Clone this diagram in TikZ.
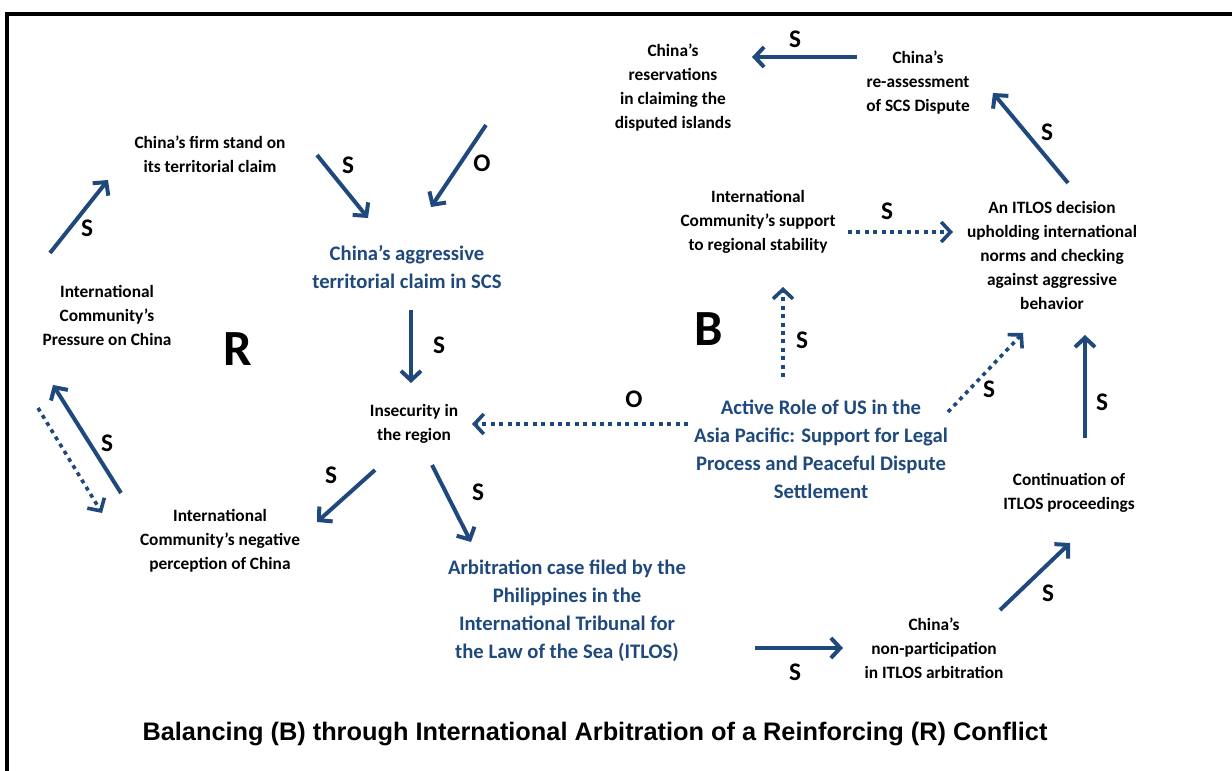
\documentclass[tikz,border=0pt]{standalone}
\usepackage{fontspec}
\setmainfont{Carlito}
\newfontfamily\capfont{Liberation Sans}
\usetikzlibrary{arrows.meta}
\definecolor{sdblue}{RGB}{31,73,125}
\begin{document}
\begin{tikzpicture}[x=0.75pt,y=-0.75pt,
    txt/.style={align=center,inner sep=1pt,font=\bfseries\fontsize{13}{18}\selectfont},
    btxt/.style={txt,text=sdblue,font=\bfseries\fontsize{15.5}{21}\selectfont},
    loopmark/.style={inner sep=0pt,font=\bfseries\fontsize{38}{40}\selectfont},
    capt/.style={inner sep=0pt,font=\capfont\bfseries\fontsize{19}{22}\selectfont},
    sarr/.style={draw=sdblue,line width=3pt,-{Straight Barb[length=7pt,width=15pt]}},
    darr/.style={sarr,line width=2.7pt,dash pattern=on 3pt off 3.3pt},
    lbl/.style={inner sep=0pt,text=black,font=\bfseries\fontsize{19}{20}\selectfont}]
      \useasboundingbox (0,0) rectangle (1232,771);
      \draw[line width=3pt] (6.5,771) -- (6.5,14) -- (1232,14);
      \node[txt] (press) at (107,315) {International\\Community’s\\Pressure on China};
      \node[txt] (firm) at (210,154) {China’s firm stand on\\its territorial claim};
      \node[btxt] (aggr) at (407,267) {China’s aggressive\\territorial claim in SCS};
      \node[txt] (reserv) at (673,88) {China’s\\reservations\\in claiming the\\disputed islands};
      \node[txt] (reass) at (918,83) {China’s\\re-assessment\\of SCS Dispute};
      \node[txt] (supp) at (758,222) {International\\Community’s support\\to regional stability};
      \node[txt] (itdec) at (1052,255) {An ITLOS decision\\upholding international\\norms and checking\\against aggressive\\behavior};
      \node[txt] (insec) at (414,424) {Insecurity in\\the region};
      \node[btxt] (usrole) at (821,449) {Active Role of US in the\\Asia Pacific: Support for Legal\\Process and Peaceful Dispute\\Settlement};
      \node[txt] (negp) at (220,541) {International\\Community’s negative\\perception of China};
      \node[btxt] (arbit) at (567,611) {Arbitration case filed by the\\Philippines in the\\International Tribunal for\\the Law of the Sea (ITLOS)};
      \node[txt] (contin) at (1069,493) {Continuation of\\ITLOS proceedings};
      \node[txt] (nonp) at (934,648) {China’s\\non-participation\\in ITLOS arbitration};
      \node[loopmark] (R) at (238,349) {R};
      \node[loopmark] (B) at (709,329) {B};
      \node[capt] (ttl) at (595,734) {Balancing (B) through International Arbitration of a Reinforcing (R) Conflict};
      % R loop
      \draw[sarr] ([shift={(-57,-62)}]press.center) -- node[lbl,shift={(8,11.5)}]{S} ([shift={(-102,26)}]firm.center);
      \draw[sarr] ([shift={(107,1)}]firm.center) -- node[lbl,shift={(5.5,-21.5)}]{S} ([shift={(-39,-49)}]aggr.center);
      \draw[sarr] ([shift={(4,43)}]aggr.center) -- node[lbl,shift={(28,-1.5)}]{S} ([shift={(-3,-41)}]insec.center);
      \draw[sarr] ([shift={(-39,46)}]insec.center) -- node[lbl,shift={(-15,-21)}]{S} ([shift={(97,-19)}]negp.center);
      \draw[sarr] ([shift={(-99,-48)}]negp.center) -- node[lbl,shift={(20,4)}]{S} ([shift={(-54,70)}]press.center);
      \draw[darr] ([shift={(-69,93)}]press.center) -- ([shift={(-118,-28)}]negp.center);
      % B loop
      \draw[sarr] ([shift={(18,41)}]insec.center) -- node[lbl,shift={(26.5,-11.5)}]{S} ([shift={(-96,-69)}]arbit.center);
      \draw[sarr] ([shift={(188,37)}]arbit.center) -- node[lbl,shift={(-4,24)}]{S} ([shift={(-91,0)}]nonp.center);
      \draw[sarr] ([shift={(66,-38)}]nonp.center) -- node[lbl,shift={(13,16.5)}]{S} ([shift={(1,50)}]contin.center);
      \draw[sarr] ([shift={(16,-55)}]contin.center) -- node[lbl,shift={(17,15.5)}]{S} ([shift={(33,80)}]itdec.center);
      \draw[sarr] ([shift={(16,-72)}]itdec.center) -- node[lbl,shift={(16.5,-6)}]{S} ([shift={(75,10)}]reass.center);
      \draw[sarr] ([shift={(-61,-26)}]reass.center) -- node[lbl,shift={(-9.5,-18)}]{S} ([shift={(79,-31)}]reserv.center);
      \draw[sarr] ([shift={(-187,37)}]reserv.center) -- node[lbl,shift={(23.5,-3)}]{O} ([shift={(24,-60)}]aggr.center);
      % US role
      \draw[darr] ([shift={(-133,-25)}]usrole.center) -- node[lbl,pos=.25,shift={(0,-25)}]{O} ([shift={(58,0)}]insec.center);
      \draw[darr] ([shift={(-38,-72)}]usrole.center) -- node[lbl,shift={(19,8)}]{S} ([shift={(25,65)}]supp.center);
      \draw[darr] ([shift={(127,-37)}]usrole.center) -- node[lbl,shift={(3.5,16.5)}]{S} ([shift={(-29,78)}]itdec.center);
      \draw[darr] ([shift={(90,10)}]supp.center) -- node[lbl,shift={(-13.5,-21)}]{S} ([shift={(-99,-23)}]itdec.center);
    \end{tikzpicture}
\end{document}
